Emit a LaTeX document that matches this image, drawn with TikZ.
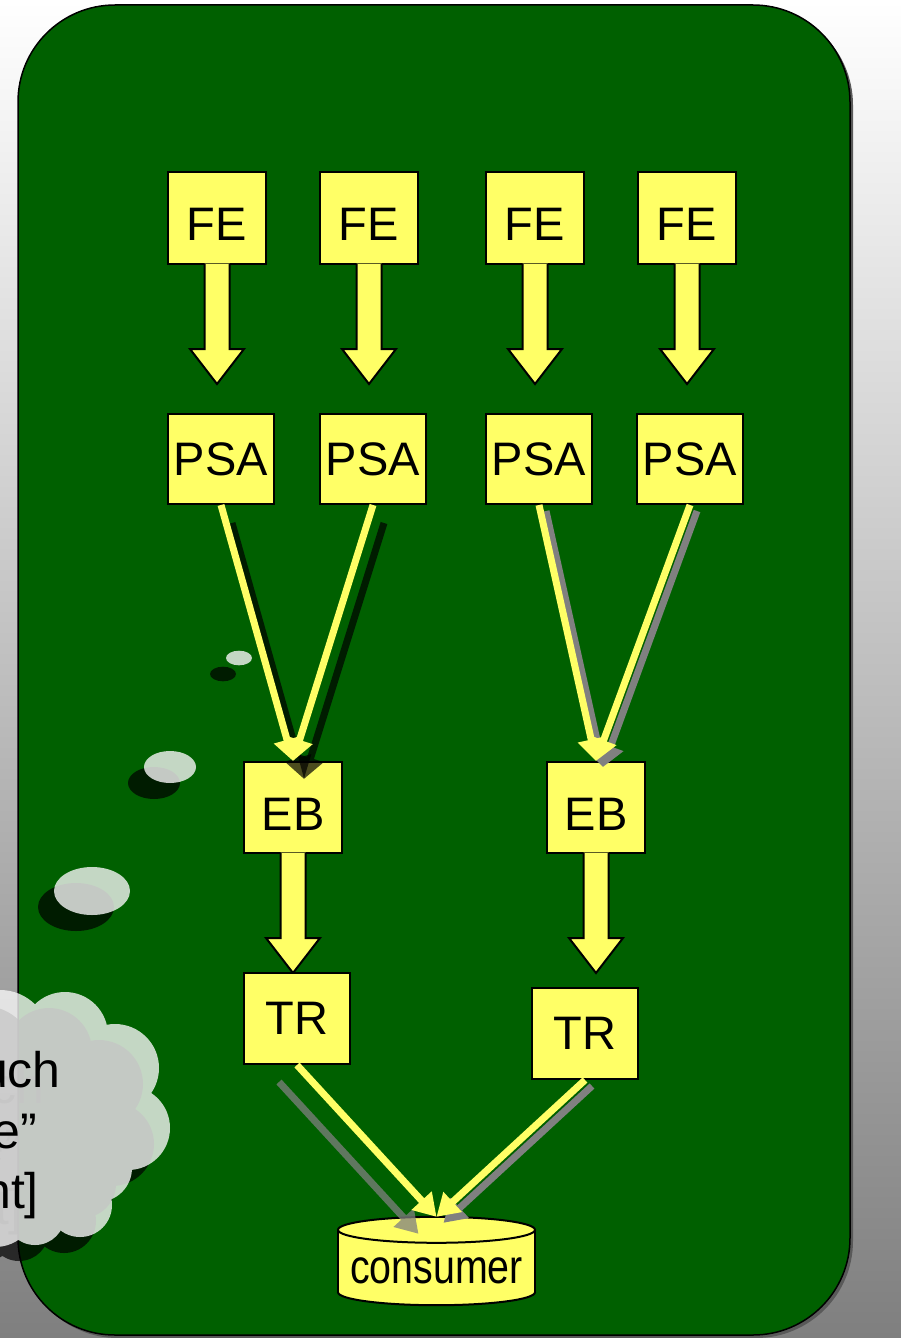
\documentclass[tikz,border=0pt]{standalone}
\usepackage{fontspec}
\setmainfont{Liberation Sans}
\usetikzlibrary{arrows.meta,calc}

\definecolor{boardgreen}{HTML}{006000}
\definecolor{boxyellow}{HTML}{FFFF66}
\definecolor{bggray}{HTML}{7F7F7F}
\definecolor{puff}{HTML}{F5F5F5}
\definecolor{shadowgray}{HTML}{808080}

% block arrow hanging below a box: shaft 25 wide, head 54 wide
\newcommand\blockarr[1]{%
  \fill[boxyellow]
    ($(#1.south)+(-12.5,-1.5)$) -- ($(#1.south)+(-12.5,84)$) --
    ($(#1.south)+(-27,84)$) -- ($(#1.south)+(0,119)$) --
    ($(#1.south)+(27,84)$) -- ($(#1.south)+(12.5,84)$) --
    ($(#1.south)+(12.5,-1.5)$) -- cycle;
  \draw[line width=2pt, line join=miter]
    ($(#1.south)+(-12.5,-1)$) -- ($(#1.south)+(-12.5,84)$) --
    ($(#1.south)+(-27,84)$) -- ($(#1.south)+(0,119)$) --
    ($(#1.south)+(27,84)$) -- ($(#1.south)+(12.5,84)$) --
    ($(#1.south)+(12.5,-1)$);
}

\begin{document}
\begin{tikzpicture}[x=1pt,y=-1pt,
  stage/.style={draw=black, line width=2pt, fill=boxyellow, inner sep=0pt,
    font=\fontsize{47pt}{56pt}\selectfont},
  narrowbox/.style={stage, minimum width=98pt, minimum height=92pt,
    text height=45.6pt, text depth=0pt},
  widebox/.style={stage, minimum width=106pt, minimum height=90pt},
  flow/.style={draw=boxyellow, line width=7pt,
    -{Triangle[length=22pt,width=26pt]}},
  cloudtext/.style={inner sep=0pt, font=\fontsize{50pt}{60pt}\selectfont},
  puffpath/.style={insert path={
    (0,1040) circle[radius=50]
    (65,1035) circle[radius=43]
    (115,1068) circle[radius=44]
    (128,1128) circle[radius=42]
    (98,1168) circle[radius=34]
    (80,1205) circle[radius=32]
    (35,1215) circle[radius=30]
    (-20,1130) circle[radius=55]
    (-5,1205) circle[radius=42]
    (45,1130) circle[radius=80]}},
]
\useasboundingbox (0,0) rectangle (901,1338);
\clip (0,0) rectangle (901,1338);

% backdrop
\shade[top color=white, bottom color=bggray] (0,0) rectangle (901,1338);

% green board with its shadow
\fill[black!65, rounded corners=97pt] (21,8) rectangle (853,1338);
\node[draw=black, line width=1.5pt, fill=boardgreen, rounded corners=97pt,
  minimum width=832pt, minimum height=1330pt, inner sep=0pt] (board) at (434,670) {};

% thought bubble: shadows first
\fill[black, fill opacity=0.7] (223,674) ellipse[x radius=13pt, y radius=7.3pt];
\fill[black, fill opacity=0.7] (154,783) ellipse[x radius=26pt, y radius=16pt];
\fill[black, fill opacity=0.7] (76,907) ellipse[x radius=38pt, y radius=24pt];
\begin{scope}[shift={(-16,16)}]
  \fill[black, fill opacity=0.7, puffpath];
\end{scope}
\node[cloudtext, anchor=base east, text opacity=0.7] (t1s) at (45,1103) {uch};
\node[cloudtext, anchor=base east, text opacity=0.7] (t2s) at (21,1164) {e”};
\node[cloudtext, anchor=base east, text opacity=0.7] (t3s) at (23,1224) {nt]};

% thought bubble: translucent puffs
\fill[puff, fill opacity=0.8] (239,658) ellipse[x radius=13pt, y radius=7.3pt];
\fill[puff, fill opacity=0.8] (170,767) ellipse[x radius=26pt, y radius=16pt];
\fill[puff, fill opacity=0.8] (92,891) ellipse[x radius=38pt, y radius=24pt];
\fill[puff, fill opacity=0.8, puffpath];
\node[cloudtext, anchor=base east] (t1) at (61,1087) {uch};
\node[cloudtext, anchor=base east] (t2) at (37,1148) {e”};
\node[cloudtext, anchor=base east] (t3) at (39,1208) {nt]};

% front ends
\node[narrowbox] (fe1) at (217,218) {FE};
\node[narrowbox] (fe2) at (369,218) {FE};
\node[narrowbox] (fe3) at (535,218) {FE};
\node[narrowbox] (fe4) at (687,218) {FE};
\blockarr{fe1}
\blockarr{fe2}
\blockarr{fe3}
\blockarr{fe4}

% PSA stage
\node[widebox] (psa1) at (221,459) {PSA};
\node[widebox] (psa2) at (373,459) {PSA};
\node[widebox] (psa3) at (539,459) {PSA};
\node[widebox] (psa4) at (690,459) {PSA};

% event builders and trigger
\node[narrowbox, minimum height=91pt] (eb1) at (293,807.5) {EB};
\node[narrowbox, minimum height=91pt] (eb2) at (596,807.5) {EB};
\blockarr{eb1}
\blockarr{eb2}
\node[widebox, minimum height=91pt] (tr1) at (297,1018.5) {TR};
\node[widebox, minimum height=91pt] (tr2) at (585,1033.5) {TR};

% consumer drum
\node[minimum width=197pt, minimum height=88pt, inner sep=0pt] (cons) at (436.5,1261) {};
\coordinate (ctop) at ($(cons.north)+(0,13)$);
\coordinate (cbot) at ($(cons.south)+(0,-13)$);
\filldraw[fill=boxyellow, draw=black, line width=2pt] (cbot) ellipse[x radius=98.5pt, y radius=13pt];
\fill[boxyellow] ($(ctop)+(-98.5,0)$) rectangle ($(cbot)+(98.5,0)$);
\draw[line width=2pt] ($(ctop)+(-98.5,0)$) -- ($(cbot)+(-98.5,0)$)
                      ($(ctop)+(98.5,0)$) -- ($(cbot)+(98.5,0)$);
\filldraw[fill=boxyellow, draw=black, line width=2pt] (ctop) ellipse[x radius=98.5pt, y radius=13pt];
\node[inner sep=0pt, font=\fontsize{48pt}{56pt}\selectfont] (constext) at (436.5,1271)
  {\scalebox{0.82}[1]{consumer}};

% PSA -> EB links (left pair with dark shadows)
\begin{scope}[transparency group, opacity=0.7]
  \draw[flow, draw=black] ($(psa1.south)+(11,18)$) -- ($(eb1.north)+(11,18)$);
\end{scope}
\draw[flow] (psa1.south) -- (eb1.north);
\begin{scope}[transparency group, opacity=0.7]
  \draw[flow, draw=black] ($(psa2.south)+(11,18)$) -- ($(eb1.north)+(11,18)$);
\end{scope}
\draw[flow] (psa2.south) -- (eb1.north);

% PSA -> EB links (right pair with grey shadows)
\draw[flow, draw=shadowgray] ($(psa3.south)+(7,6)$) -- ($(eb2.north)+(7,6)$);
\draw[flow] (psa3.south) -- (eb2.north);
\draw[flow, draw=shadowgray] ($(psa4.south)+(7,6)$) -- ($(eb2.north)+(7,6)$);
\draw[flow] (psa4.south) -- (eb2.north);

% TR -> consumer links
\begin{scope}[transparency group, opacity=0.75]
  \draw[flow, draw=shadowgray] ($(tr1.south)+(-18,17)$) -- ($(cons.north)+(-18,17)$);
\end{scope}
\draw[flow] (tr1.south) -- (cons.north);
\draw[flow, draw=shadowgray] ($(tr2.south)+(7,6)$) -- ($(cons.north)+(7,6)$);
\draw[flow] (tr2.south) -- (cons.north);
\end{tikzpicture}
\end{document}
